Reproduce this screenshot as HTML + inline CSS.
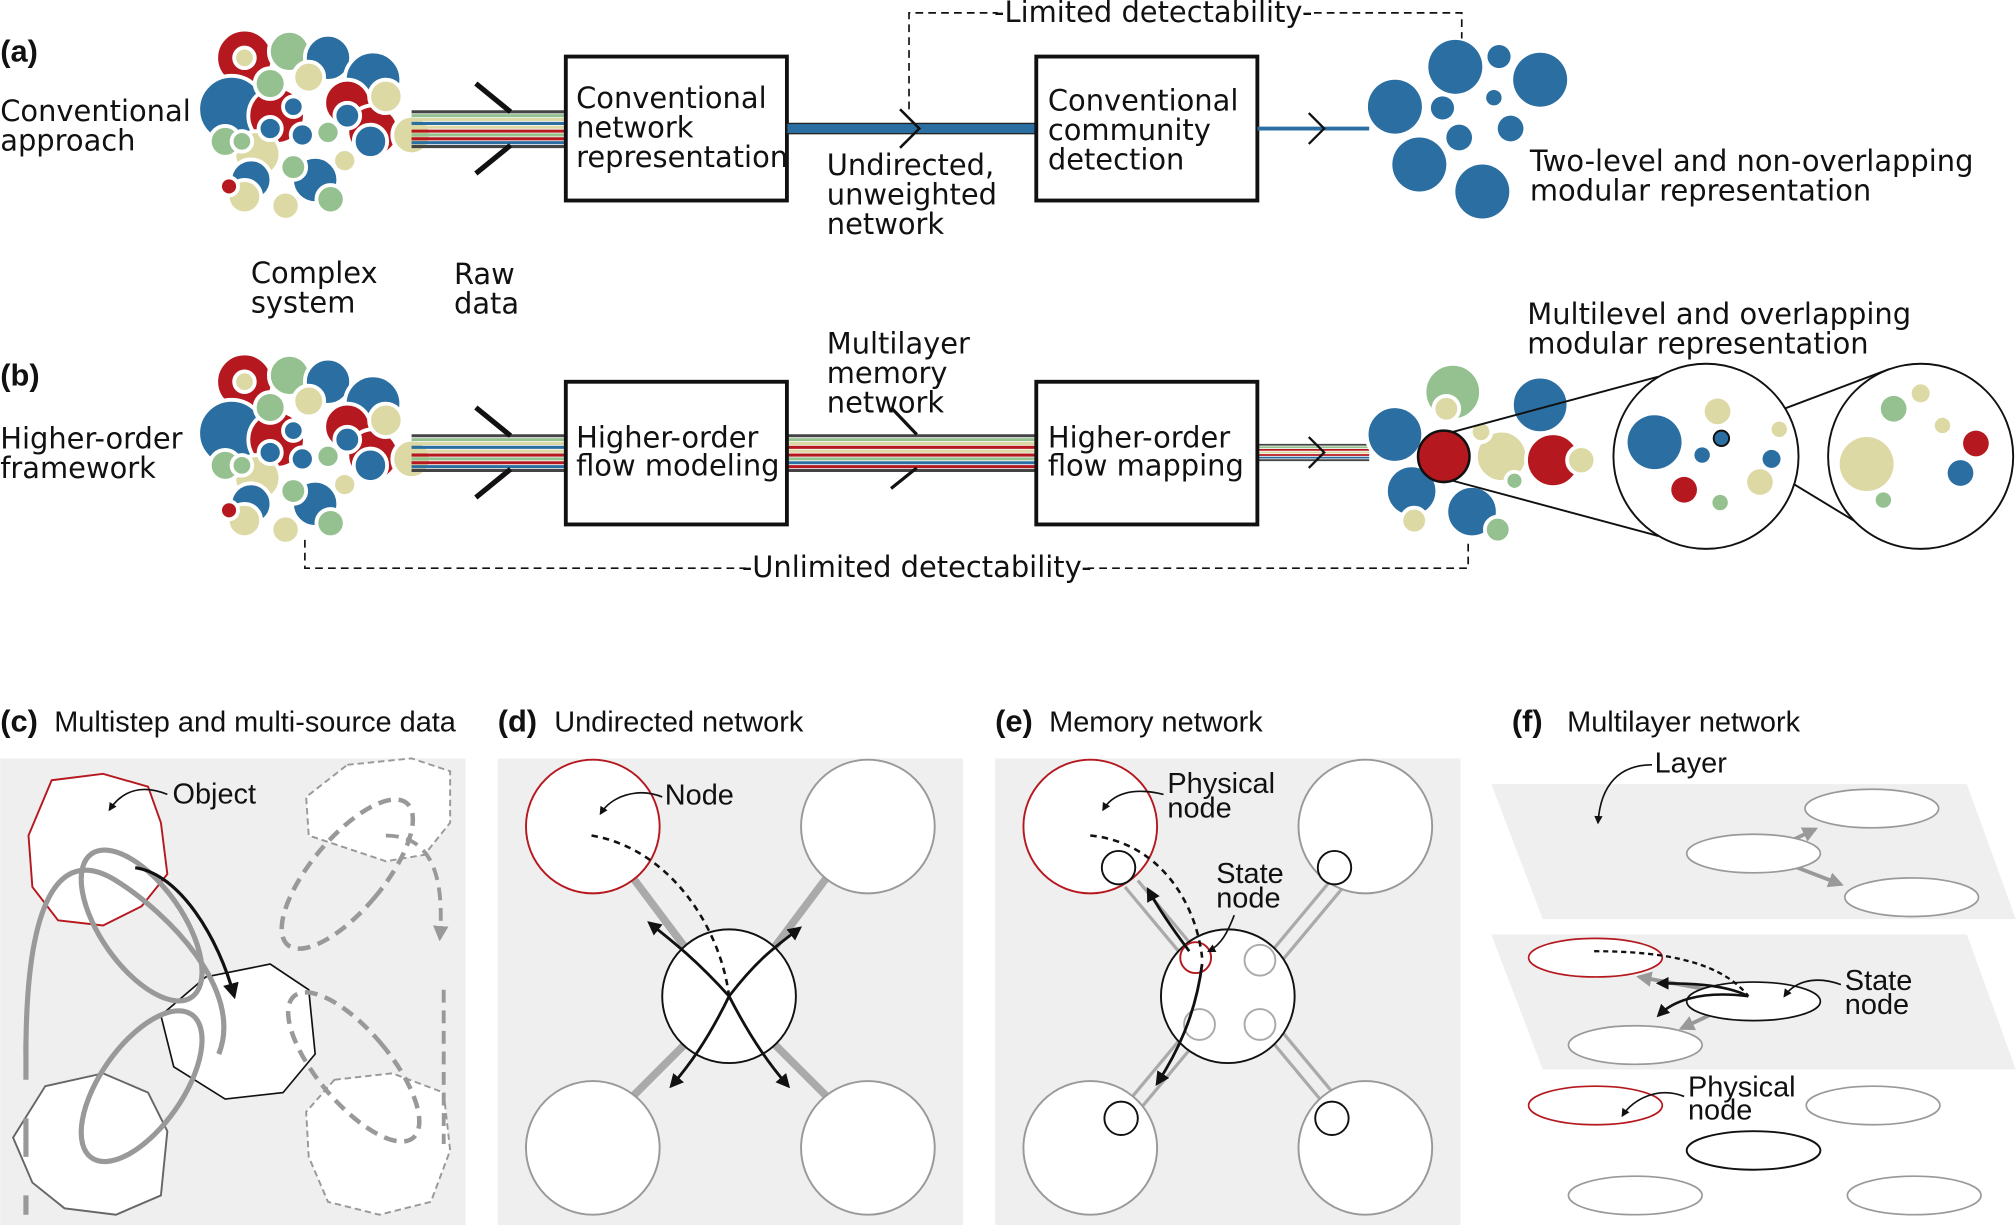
<!DOCTYPE html>
<html><head><meta charset="utf-8"><style>
html,body{margin:0;padding:0;background:#fff;}
svg{display:block;}
.t{font-family:"DejaVu Sans","Liberation Sans",sans-serif;font-size:22.5px;fill:#111;}
.h{font-family:"Liberation Sans",sans-serif;font-size:22.5px;fill:#111;}
.b{font-family:"Liberation Sans",sans-serif;font-size:24px;font-weight:bold;fill:#111;}
</style></head><body>
<svg width="2016" height="1225" viewBox="0 0 1568 953" xmlns="http://www.w3.org/2000/svg">
<defs>
<marker id="ah" viewBox="0 0 10 10" refX="8" refY="5" markerWidth="5" markerHeight="5" orient="auto"><path d="M0,0 L10,5 L0,10 z" fill="#111"/></marker>
<marker id="ahg" viewBox="0 0 10 10" refX="8" refY="5" markerWidth="4" markerHeight="4" orient="auto"><path d="M0,0 L10,5 L0,10 z" fill="#999"/></marker>
<g id="clus" stroke="#fff" stroke-width="3">
<circle cx="190" cy="45" r="22" fill="#b5191f"/><circle cx="190" cy="45" r="8" fill="#dcd9a5"/>
<circle cx="225" cy="40" r="16" fill="#95c08f"/><circle cx="255" cy="45" r="18" fill="#2b6ea1"/>
<circle cx="290" cy="62" r="22" fill="#2b6ea1"/><circle cx="180" cy="85" r="26" fill="#2b6ea1"/>
<circle cx="215" cy="90" r="22" fill="#b5191f"/><circle cx="228" cy="83" r="8" fill="#2b6ea1"/>
<circle cx="240" cy="60" r="12" fill="#dcd9a5"/><circle cx="210" cy="65" r="12" fill="#95c08f"/>
<circle cx="270" cy="80" r="18" fill="#b5191f"/><circle cx="290" cy="102" r="20" fill="#b5191f"/>
<circle cx="270" cy="90" r="10" fill="#2b6ea1"/><circle cx="300" cy="75" r="13" fill="#dcd9a5"/>
<circle cx="320" cy="105" r="15" fill="#dcd9a5"/><circle cx="288" cy="110" r="13" fill="#2b6ea1"/>
<circle cx="235" cy="105" r="9" fill="#2b6ea1"/><circle cx="255" cy="103" r="9" fill="#95c08f"/>
<circle cx="200" cy="120" r="18" fill="#dcd9a5"/><circle cx="175" cy="110" r="12" fill="#95c08f"/>
<circle cx="188" cy="110" r="8" fill="#95c08f"/><circle cx="245" cy="140" r="18" fill="#2b6ea1"/>
<circle cx="195" cy="140" r="16" fill="#2b6ea1"/><circle cx="228" cy="130" r="10" fill="#95c08f"/>
<circle cx="190" cy="153" r="13" fill="#dcd9a5"/><circle cx="178" cy="145" r="7" fill="#b5191f"/>
<circle cx="222" cy="160" r="11" fill="#dcd9a5"/><circle cx="257" cy="155" r="11" fill="#95c08f"/>
<circle cx="268" cy="125" r="9" fill="#dcd9a5"/><circle cx="210" cy="100" r="9" fill="#2b6ea1"/>
</g>
</defs>

<!-- (a) -->
<text x="0" y="48" class="b">(a)</text>
<text x="0" y="94" class="t">Conventional</text>
<text x="0" y="117" class="t">approach</text>
<use href="#clus"/>
<g stroke-width="2.4">
<line x1="320" y1="87" x2="440" y2="87" stroke="#444"/><line x1="320" y1="90" x2="440" y2="90" stroke="#95c08f"/>
<line x1="320" y1="93" x2="440" y2="93" stroke="#dcd9a5"/><line x1="320" y1="96" x2="440" y2="96" stroke="#2b6ea1"/>
<line x1="320" y1="99" x2="440" y2="99" stroke="#dcd9a5"/><line x1="320" y1="102" x2="440" y2="102" stroke="#b5191f"/>
<line x1="320" y1="105" x2="440" y2="105" stroke="#95c08f"/><line x1="320" y1="108" x2="440" y2="108" stroke="#b5191f"/>
<line x1="320" y1="111" x2="440" y2="111" stroke="#2b6ea1"/><line x1="320" y1="114" x2="440" y2="114" stroke="#444"/>
</g>
<line x1="370" y1="65" x2="397" y2="87" stroke="#111" stroke-width="4"/>
<line x1="370" y1="135" x2="397" y2="113" stroke="#111" stroke-width="4"/>
<rect x="440" y="44" width="172" height="112" fill="#fff" stroke="#111" stroke-width="3"/>
<text x="448" y="84" class="t">Conventional</text><text x="448" y="107" class="t">network</text><text x="448" y="130" class="t">representation</text>
<rect x="612" y="96" width="194" height="8" fill="#2b6ea1" stroke="#222" stroke-width="1"/>
<polyline points="700,85 715,100 700,115" fill="none" stroke="#111" stroke-width="2"/>
<text x="643" y="136" class="t">Undirected,</text><text x="643" y="159" class="t">unweighted</text><text x="643" y="182" class="t">network</text>
<path d="M707,85 V10 H1137 V30" fill="none" stroke="#111" stroke-width="1.3" stroke-dasharray="6,4"/>
<rect x="776" y="0" width="242" height="20" fill="#fff"/>
<text x="897" y="17" class="t" text-anchor="middle">-Limited detectability-</text>
<rect x="806" y="44" width="172" height="112" fill="#fff" stroke="#111" stroke-width="3"/>
<text x="815" y="86" class="t">Conventional</text><text x="815" y="109" class="t">community</text><text x="815" y="132" class="t">detection</text>
<line x1="978" y1="100" x2="1065" y2="100" stroke="#2b6ea1" stroke-width="3"/>
<polyline points="1018,88 1030,100 1018,112" fill="none" stroke="#111" stroke-width="1.8"/>
<g fill="#2b6ea1">
<circle cx="1132" cy="52" r="21"/><circle cx="1166" cy="44" r="9"/><circle cx="1198" cy="62" r="21"/>
<circle cx="1085" cy="83" r="21"/><circle cx="1122" cy="84" r="9"/><circle cx="1162" cy="76" r="6"/>
<circle cx="1175" cy="100" r="10"/><circle cx="1135" cy="107" r="10"/><circle cx="1104" cy="128" r="21"/>
<circle cx="1153" cy="149" r="21"/>
</g>
<text x="1190" y="133" class="t">Two-level and non-overlapping</text>
<text x="1190" y="156" class="t">modular representation</text>
<text x="195" y="220" class="t">Complex</text><text x="195" y="243" class="t">system</text>
<text x="353" y="221" class="t">Raw</text><text x="353" y="244" class="t">data</text>

<!-- (b) -->
<text x="0" y="300" class="b">(b)</text>
<text x="0" y="349" class="t">Higher-order</text>
<text x="0" y="372" class="t">framework</text>
<use href="#clus" transform="translate(0,252)"/>
<g stroke-width="2.4">
<line x1="320" y1="339" x2="440" y2="339" stroke="#444"/><line x1="320" y1="342" x2="440" y2="342" stroke="#95c08f"/>
<line x1="320" y1="345" x2="440" y2="345" stroke="#dcd9a5"/><line x1="320" y1="348" x2="440" y2="348" stroke="#2b6ea1"/>
<line x1="320" y1="351" x2="440" y2="351" stroke="#dcd9a5"/><line x1="320" y1="354" x2="440" y2="354" stroke="#b5191f"/>
<line x1="320" y1="357" x2="440" y2="357" stroke="#95c08f"/><line x1="320" y1="360" x2="440" y2="360" stroke="#b5191f"/>
<line x1="320" y1="363" x2="440" y2="363" stroke="#2b6ea1"/><line x1="320" y1="366" x2="440" y2="366" stroke="#444"/>
<line x1="612" y1="339" x2="806" y2="339" stroke="#444"/><line x1="612" y1="342" x2="806" y2="342" stroke="#95c08f"/>
<line x1="612" y1="345" x2="806" y2="345" stroke="#dcd9a5"/><line x1="612" y1="348" x2="806" y2="348" stroke="#b5191f"/>
<line x1="612" y1="351" x2="806" y2="351" stroke="#dcd9a5"/><line x1="612" y1="354" x2="806" y2="354" stroke="#b5191f"/>
<line x1="612" y1="357" x2="806" y2="357" stroke="#95c08f"/><line x1="612" y1="360" x2="806" y2="360" stroke="#2b6ea1"/>
<line x1="612" y1="363" x2="806" y2="363" stroke="#b5191f"/><line x1="612" y1="366" x2="806" y2="366" stroke="#444"/>
</g>
<g stroke-width="1.4">
<line x1="978" y1="346" x2="1065" y2="346" stroke="#444"/><line x1="978" y1="348" x2="1065" y2="348" stroke="#95c08f"/>
<line x1="978" y1="350" x2="1065" y2="350" stroke="#b5191f"/><line x1="978" y1="352" x2="1065" y2="352" stroke="#dcd9a5"/>
<line x1="978" y1="354" x2="1065" y2="354" stroke="#b5191f"/><line x1="978" y1="356" x2="1065" y2="356" stroke="#2b6ea1"/>
<line x1="978" y1="358" x2="1065" y2="358" stroke="#444"/>
</g>
<line x1="370" y1="317" x2="397" y2="339" stroke="#111" stroke-width="4"/>
<line x1="370" y1="387" x2="397" y2="365" stroke="#111" stroke-width="4"/>
<line x1="693" y1="317" x2="713" y2="338" stroke="#111" stroke-width="2.5"/>
<line x1="693" y1="380" x2="713" y2="364" stroke="#111" stroke-width="2.5"/>
<polyline points="1018,340 1030,352 1018,364" fill="none" stroke="#111" stroke-width="1.8"/>
<rect x="440" y="297" width="172" height="111" fill="#fff" stroke="#111" stroke-width="3"/>
<text x="448" y="348" class="t">Higher-order</text><text x="448" y="370" class="t">flow modeling</text>
<text x="643" y="275" class="t">Multilayer</text><text x="643" y="298" class="t">memory</text><text x="643" y="321" class="t">network</text>
<rect x="806" y="297" width="172" height="111" fill="#fff" stroke="#111" stroke-width="3"/>
<text x="815" y="348" class="t">Higher-order</text><text x="815" y="370" class="t">flow mapping</text>
<g stroke="#fff" stroke-width="3">
<circle cx="1130" cy="305" r="22" fill="#95c08f"/><circle cx="1125" cy="318" r="10" fill="#dcd9a5"/>
<circle cx="1085" cy="338" r="22" fill="#2b6ea1"/><circle cx="1198" cy="315" r="22" fill="#2b6ea1"/>
<circle cx="1168" cy="355" r="20" fill="#dcd9a5"/><circle cx="1208" cy="358" r="21" fill="#b5191f"/>
<circle cx="1230" cy="358" r="11" fill="#dcd9a5"/><circle cx="1098" cy="382" r="20" fill="#2b6ea1"/>
<circle cx="1145" cy="398" r="20" fill="#2b6ea1"/><circle cx="1165" cy="412" r="10" fill="#95c08f"/>
<circle cx="1100" cy="405" r="10" fill="#dcd9a5"/><circle cx="1178" cy="374" r="7" fill="#95c08f"/>
<circle cx="1152" cy="336" r="8" fill="#dcd9a5"/>
</g>
<circle cx="1123" cy="355" r="20" fill="#b5191f" stroke="#111" stroke-width="2"/>
<line x1="1130" y1="336" x2="1290" y2="293" stroke="#111" stroke-width="1.5"/>
<line x1="1130" y1="374" x2="1290" y2="417" stroke="#111" stroke-width="1.5"/>
<line x1="1340" y1="336" x2="1470" y2="287" stroke="#111" stroke-width="1.5"/>
<line x1="1340" y1="343" x2="1470" y2="422" stroke="#111" stroke-width="1.5"/>
<circle cx="1327" cy="355" r="72" fill="#fff" stroke="#111" stroke-width="1.5"/>
<circle cx="1494" cy="355" r="72" fill="#fff" stroke="#111" stroke-width="1.5"/>
<circle cx="1287" cy="344" r="21" fill="#2b6ea1"/><circle cx="1336" cy="320" r="10" fill="#dcd9a5"/>
<circle cx="1339" cy="341" r="6" fill="#2b6ea1" stroke="#111" stroke-width="1.5"/>
<circle cx="1324" cy="354" r="6" fill="#2b6ea1"/><circle cx="1384" cy="334" r="6" fill="#dcd9a5"/>
<circle cx="1378" cy="357" r="7" fill="#2b6ea1"/><circle cx="1369" cy="375" r="10" fill="#dcd9a5"/>
<circle cx="1310" cy="381" r="10" fill="#b5191f"/><circle cx="1338" cy="391" r="6" fill="#95c08f"/>
<circle cx="1452" cy="361" r="21" fill="#dcd9a5"/><circle cx="1473" cy="318" r="10" fill="#95c08f"/>
<circle cx="1494" cy="306" r="7" fill="#dcd9a5"/><circle cx="1511" cy="331" r="6" fill="#dcd9a5"/>
<circle cx="1537" cy="345" r="10" fill="#b5191f"/><circle cx="1525" cy="368" r="10" fill="#2b6ea1"/>
<circle cx="1465" cy="389" r="6" fill="#95c08f"/>
<text x="1188" y="252" class="t">Multilevel and overlapping</text>
<text x="1188" y="275" class="t">modular representation</text>
<path d="M237,420 V442 H1142 V420" fill="none" stroke="#111" stroke-width="1.3" stroke-dasharray="6,4"/>
<rect x="580" y="432" width="266" height="20" fill="#fff"/>
<text x="713" y="449" class="t" text-anchor="middle">-Unlimited detectability-</text>

<!-- bottom titles -->
<text x="0" y="569" class="b">(c)</text><text x="42" y="569" class="h">Multistep and multi-source data</text>
<text x="387" y="569" class="b">(d)</text><text x="431" y="569" class="h">Undirected network</text>
<text x="774" y="569" class="b">(e)</text><text x="816" y="569" class="h">Memory network</text>
<text x="1176" y="569" class="b">(f)</text><text x="1219" y="569" class="h">Multilayer network</text>

<!-- (c) -->
<rect x="0" y="590" width="362" height="363" fill="#efefef"/>
<path d="M40,607 L80,602 L115,612 L125,640 L130,680 L110,705 L80,720 L45,716 L25,690 L22,650 Z" fill="#fff" stroke="#b5191f" stroke-width="1.5"/>
<path d="M270,595 L320,590 L350,600 L350,640 L330,665 L300,670 L270,660 L240,650 L238,620 Z" fill="#fff" stroke="#999" stroke-width="1.5" stroke-dasharray="5,3"/>
<path d="M35,845 L80,835 L115,850 L130,880 L125,930 L90,945 L50,940 L25,920 L10,885 Z" fill="#fff" stroke="#666" stroke-width="1.5"/>
<path d="M260,840 L305,835 L345,850 L350,895 L335,935 L295,945 L255,935 L240,900 L238,865 Z" fill="#fff" stroke="#999" stroke-width="1.5" stroke-dasharray="5,3"/>
<path d="M160,760 L210,750 L240,770 L245,820 L220,850 L175,855 L135,830 L125,790 Z" fill="#fff" stroke="#111" stroke-width="1.3"/>
<path d="M20,820 C20,690 50,660 90,685 C130,710 190,770 170,820" fill="none" stroke="#999" stroke-width="4"/>
<ellipse cx="110" cy="720" rx="32" ry="68" transform="rotate(-35 110 720)" fill="none" stroke="#999" stroke-width="4"/>
<ellipse cx="110" cy="845" rx="32" ry="68" transform="rotate(35 110 845)" fill="none" stroke="#999" stroke-width="4"/>
<path d="M20,810 V945" fill="none" stroke="#999" stroke-width="4" stroke-dasharray="30,30"/>
<path d="M105,675 C140,680 170,730 182,775" fill="none" stroke="#111" stroke-width="2.5" marker-end="url(#ah)"/>
<ellipse cx="270" cy="680" rx="28" ry="72" transform="rotate(40 270 680)" fill="none" stroke="#999" stroke-width="3.5" stroke-dasharray="10,6"/>
<ellipse cx="275" cy="830" rx="28" ry="72" transform="rotate(-40 275 830)" fill="none" stroke="#999" stroke-width="3.5" stroke-dasharray="10,6"/>
<path d="M300,650 C340,650 345,690 342,730" fill="none" stroke="#999" stroke-width="3" stroke-dasharray="10,6" marker-end="url(#ahg)"/>
<path d="M345,770 V890" fill="none" stroke="#999" stroke-width="3" stroke-dasharray="10,6"/>
<text x="134" y="625" class="h">Object</text>
<path d="M130,618 C110,610 95,615 85,630" fill="none" stroke="#111" stroke-width="1.3" marker-end="url(#ah)"/>

<!-- (d) -->
<rect x="387" y="590" width="362" height="363" fill="#efefef"/>
<g stroke="#aaa" stroke-width="6">
<line x1="490" y1="680" x2="535" y2="740"/><line x1="645" y1="680" x2="600" y2="740"/>
<line x1="490" y1="855" x2="535" y2="810"/><line x1="645" y1="855" x2="600" y2="810"/>
</g>
<g fill="#fff" stroke="#999" stroke-width="1.5">
<circle cx="675" cy="643" r="52"/><circle cx="461" cy="893" r="52"/><circle cx="675" cy="893" r="52"/>
</g>
<circle cx="461" cy="643" r="52" fill="#fff" stroke="#b5191f" stroke-width="1.5"/>
<circle cx="567" cy="775" r="52" fill="#fff" stroke="#111" stroke-width="1.5"/>
<path d="M460,650 C520,660 560,720 567,775" fill="none" stroke="#111" stroke-width="2" stroke-dasharray="5,4"/>
<path d="M567,775 C540,745 520,730 505,718" fill="none" stroke="#111" stroke-width="2.2" marker-end="url(#ah)"/>
<path d="M567,775 C590,745 605,735 622,722" fill="none" stroke="#111" stroke-width="2.2" marker-end="url(#ah)"/>
<path d="M567,775 C550,810 535,830 522,845" fill="none" stroke="#111" stroke-width="2.2" marker-end="url(#ah)"/>
<path d="M567,775 C585,810 600,830 613,845" fill="none" stroke="#111" stroke-width="2.2" marker-end="url(#ah)"/>
<text x="517" y="626" class="h">Node</text>
<path d="M515,620 C495,612 475,620 467,633" fill="none" stroke="#111" stroke-width="1.3" marker-end="url(#ah)"/>

<!-- (e) -->
<rect x="774" y="590" width="362" height="363" fill="#efefef"/>
<g stroke="#aaa" stroke-width="2.5">
<line x1="875" y1="690" x2="925" y2="750"/><line x1="885" y1="685" x2="935" y2="745"/>
<line x1="1035" y1="685" x2="985" y2="745"/><line x1="1045" y1="690" x2="995" y2="750"/>
<line x1="875" y1="860" x2="925" y2="800"/><line x1="885" y1="865" x2="935" y2="805"/>
<line x1="1035" y1="865" x2="985" y2="805"/><line x1="1045" y1="860" x2="995" y2="800"/>
</g>
<g fill="#fff" stroke="#999" stroke-width="1.5">
<circle cx="1062" cy="643" r="52"/><circle cx="848" cy="893" r="52"/><circle cx="1062" cy="893" r="52"/>
</g>
<circle cx="848" cy="643" r="52" fill="#fff" stroke="#b5191f" stroke-width="1.5"/>
<circle cx="955" cy="775" r="52" fill="#fff" stroke="#111" stroke-width="1.5"/>
<g fill="#fff" stroke="#111" stroke-width="1.5">
<circle cx="870" cy="675" r="13"/><circle cx="1038" cy="675" r="13"/><circle cx="872" cy="870" r="13"/><circle cx="1036" cy="870" r="13"/>
</g>
<g fill="#fff" stroke="#aaa" stroke-width="1.5">
<circle cx="980" cy="747" r="12"/><circle cx="933" cy="797" r="12"/><circle cx="980" cy="797" r="12"/>
</g>
<circle cx="930" cy="745" r="12" fill="#fff" stroke="#b5191f" stroke-width="1.5"/>
<path d="M848,650 C900,655 930,700 935,745" fill="none" stroke="#111" stroke-width="2" stroke-dasharray="5,4"/>
<path d="M925,740 C910,720 900,705 893,692" fill="none" stroke="#111" stroke-width="2.2" marker-end="url(#ah)"/>
<path d="M935,750 C930,790 915,820 900,843" fill="none" stroke="#111" stroke-width="2.2" marker-end="url(#ah)"/>
<text x="908" y="617" class="h">Physical</text><text x="908" y="636" class="h">node</text>
<path d="M905,618 C880,612 865,618 858,630" fill="none" stroke="#111" stroke-width="1.3" marker-end="url(#ah)"/>
<text x="946" y="687" class="h">State</text><text x="946" y="706" class="h">node</text>
<path d="M960,712 C955,725 950,735 940,740" fill="none" stroke="#111" stroke-width="1.3" marker-end="url(#ah)"/>

<!-- (f) -->
<polygon points="1160,610 1530,610 1568,715 1200,715" fill="#efefef"/>
<polygon points="1160,727 1530,727 1568,832 1200,832" fill="#efefef"/>
<g stroke="#999" stroke-width="3" marker-end="url(#ahg)">
<line x1="1385" y1="658" x2="1412" y2="645"/><line x1="1385" y1="670" x2="1432" y2="688"/>
<line x1="1340" y1="772" x2="1275" y2="760"/><line x1="1340" y1="785" x2="1308" y2="800"/>
</g>
<g fill="#fff" stroke="#999" stroke-width="1.3">
<ellipse cx="1456" cy="629" rx="52" ry="15"/><ellipse cx="1364" cy="664" rx="52" ry="15"/><ellipse cx="1487" cy="698" rx="52" ry="15"/>
<ellipse cx="1272" cy="813" rx="52" ry="15"/>
<ellipse cx="1457" cy="860" rx="52" ry="15"/><ellipse cx="1272" cy="930" rx="52" ry="15"/><ellipse cx="1489" cy="930" rx="52" ry="15"/>
</g>
<ellipse cx="1241" cy="745" rx="52" ry="15" fill="#fff" stroke="#b5191f" stroke-width="1.3"/>
<ellipse cx="1241" cy="860" rx="52" ry="15" fill="#fff" stroke="#b5191f" stroke-width="1.3"/>
<ellipse cx="1364" cy="779" rx="52" ry="15" fill="#fff" stroke="#111" stroke-width="1.3"/>
<ellipse cx="1364" cy="895" rx="52" ry="15" fill="#fff" stroke="#111" stroke-width="1.5"/>
<path d="M1240,740 C1300,740 1340,750 1360,775" fill="none" stroke="#111" stroke-width="1.8" stroke-dasharray="4,3"/>
<path d="M1360,775 C1320,770 1300,780 1290,790" fill="none" stroke="#111" stroke-width="2" marker-end="url(#ah)"/>
<path d="M1360,775 C1340,765 1310,765 1290,765" fill="none" stroke="#111" stroke-width="2" marker-end="url(#ah)"/>
<text x="1287" y="601" class="h">Layer</text>
<path d="M1285,595 C1260,595 1245,610 1243,640" fill="none" stroke="#111" stroke-width="1.3" marker-end="url(#ah)"/>
<text x="1435" y="770" class="h">State</text><text x="1435" y="789" class="h">node</text>
<path d="M1432,766 C1410,758 1395,765 1388,775" fill="none" stroke="#111" stroke-width="1.3" marker-end="url(#ah)"/>
<text x="1313" y="853" class="h">Physical</text><text x="1313" y="871" class="h">node</text>
<path d="M1310,853 C1290,845 1270,855 1262,868" fill="none" stroke="#111" stroke-width="1.3" marker-end="url(#ah)"/>
</svg>
</body></html>
